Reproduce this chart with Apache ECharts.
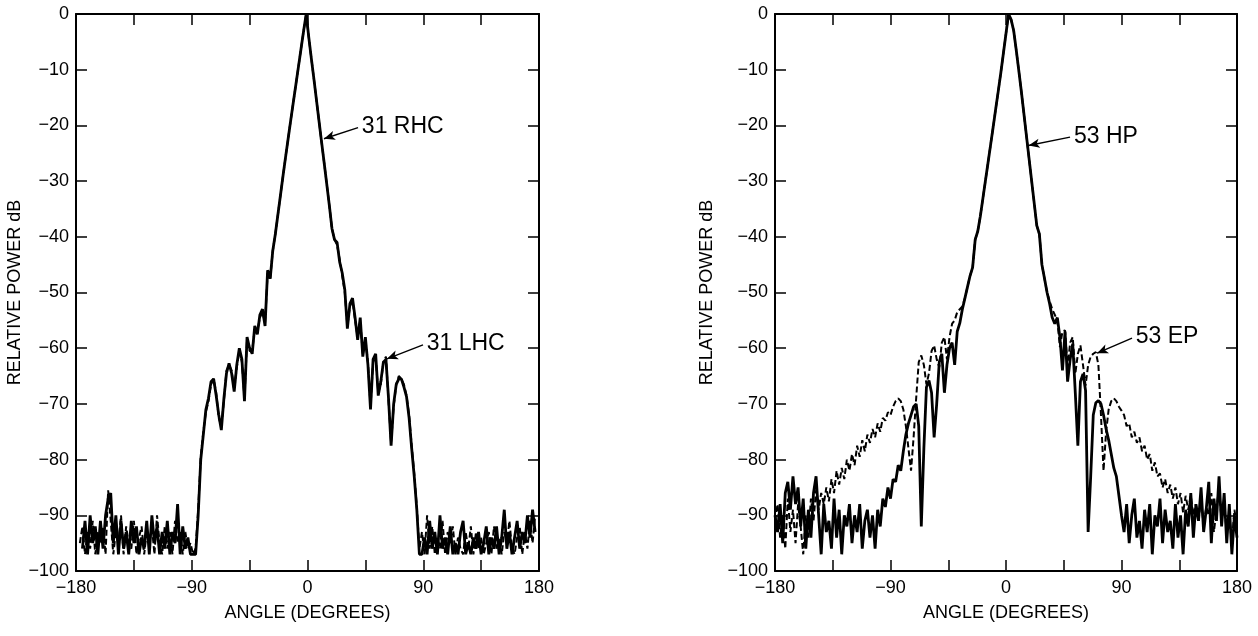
<!DOCTYPE html>
<html>
<head>
<meta charset="utf-8">
<title>Antenna patterns</title>
<script src="https://cdn.jsdelivr.net/npm/echarts@6/dist/echarts.min.js"></script>
<style>
  html, body { margin: 0; padding: 0; background: #fff; }
  #chart { width: 1258px; height: 636px; }
</style>
</head>
<body>
<div id="chart"></div>
<script>
// left panel: 31 RHC / 31 LHC, sampled every 2 degrees (odd angles)
const anglesLeft = [
  -179,-177,-175,-173,-171,-169,-167,-165,-163,-161,
  -159,-157,-155,-153,-151,-149,-147,-145,-143,-141,
  -139,-137,-135,-133,-131,-129,-127,-125,-123,-121,
  -119,-117,-115,-113,-111,-109,-107,-105,-103,-101,
  -99,-97,-95,-93,-91,-89,-87,-85,-83,-81,
  -79,-77,-75,-73,-71,-69,-67,-65,-63,-61,
  -59,-57,-55,-53,-51,-49,-47,-45,-43,-41,
  -39,-37,-35,-33,-31,-29,-27,-25,-23,-21,
  -19,-17,-15,-13,-11,-9,-7,-5,-3,-1,
  1,3,5,7,9,11,13,15,17,19,
  21,23,25,27,29,31,33,35,37,39,
  41,43,45,47,49,51,53,55,57,59,
  61,63,65,67,69,71,73,75,77,79,
  81,83,85,87,89,91,93,95,97,99,
  101,103,105,107,109,111,113,115,117,119,
  121,123,125,127,129,131,133,135,137,139,
  141,143,145,147,149,151,153,155,157,159,
  161,163,165,167,169,171,173,175,177,179
]

const rhc31 = [
  null,null,-96,-91,-97,-90,-95,-92,-97,-91,
  -96,-90,-87,-86,-95,-90,-97,-91,-96,-93,
  -97,-91,-95,-92,-97,-94,-96,-91,-97,-90,
  -95,-92,-97,-93,-96,-91,-97,-93,-95,-88,
  -97,-92,-96,-94,-97,-97,-97,-90,-80,-75.5,
  -71,-69,-66,-65.5,-68.5,-72,-74.7,-69,-64.5,-62.7,
  -64.5,-67.8,-63,-60,-62,-69.5,-58,-60,-61,-56,
  -57.5,-54,-53,-56,-46,-47.5,-42.5,-39.5,-36,-32.5,
  -29,-25.6,-22.3,-19,-15.8,-12.6,-9.4,-6.2,-3,0,
  -4.2,-8,-11.7,-15.5,-19.3,-23.1,-26.8,-30.6,-34.4,-38.5,
  -40.5,-41,-44.5,-46.5,-49.5,-56.5,-52,-51,-54.5,-58.5,
  -54.5,-61.5,-58,-63,-71,-62,-61,-68.5,-66,-62.5,
  -62,-69,-77.5,-70,-66.5,-65.5,-65.5,-67,-68.7,-72.5,
  -78,-83,-89,-97,-97,-94,-97,-91,-96,-93,
  -97,-90,-96,-94,-97,-92,-97,-95,-97,-93,
  -91,-97,-95,-97,-94,-96,-93,-97,-95,-92,
  -97,-94,-96,-92,-97,-94,-89,-96,-93,-97,
  -94,-91,-96,-93,-95,-90,-94,-89,-93,null
]

const lhc31 = [
  null,-95,-92,-97,-93,-96,-91,-97,-93,-95,
  -92,-97,-85.5,-91,-97,-93,-95,-90,-97,-92,
  -95,-96,-91,-97,-94,-92,-97,-93,-95,-92,
  -97,-90,-95,-97,-92,-96,-93,-97,-91,-95,
  -93,-97,-93,-96,-95,-97,-96,-89,-79.5,-75,
  -71.5,-69.5,-66.5,-65.5,-68,-72.5,-74,-69.5,-64,-63,
  -64,-67.5,-63.5,-60.5,-62.5,-69,-58.5,-60.5,-60.5,-56.5,
  -57,-54.5,-53.5,-55.5,-46.5,-47.5,-42.5,-39.5,-36,-32.5,
  -29,-25.6,-22.3,-19,-15.8,-12.6,-9.4,-6.2,-3,0,
  -4.2,-8,-11.7,-15.5,-19.3,-23.1,-26.8,-30.6,-34.4,-38.5,
  -40.5,-41.5,-44,-47,-50,-56,-52.5,-51.5,-55,-58,
  -55,-61,-58.5,-62.5,-70.5,-62.5,-61.5,-68,-66.5,-62.5,
  -61.5,-69.5,-77,-70.5,-66.5,-65,-65.5,-66.5,-68.5,-72,
  -77.5,-82.5,-88.5,-96,-93,-97,-90,-96,-92,-97,
  -94,-96,-91,-97,-93,-95,-92,-97,-94,-96,
  -97,-93,-96,-92,-97,-93,-96,-94,-97,-95,
  -93,-97,-92,-96,-94,-97,-93,-95,-91,-96,
  -97,-94,-92,-97,-93,-96,-91,-95,-90,null
]

// right panel: 53 HP / 53 EP, sampled every 2 degrees (even angles)
const anglesRight = [
  -180,-178,-176,-174,-172,-170,-168,-166,-164,-162,
  -160,-158,-156,-154,-152,-150,-148,-146,-144,-142,
  -140,-138,-136,-134,-132,-130,-128,-126,-124,-122,
  -120,-118,-116,-114,-112,-110,-108,-106,-104,-102,
  -100,-98,-96,-94,-92,-90,-88,-86,-84,-82,
  -80,-78,-76,-74,-72,-70,-68,-66,-64,-62,
  -60,-58,-56,-54,-52,-50,-48,-46,-44,-42,
  -40,-38,-36,-34,-32,-30,-28,-26,-24,-22,
  -20,-18,-16,-14,-12,-10,-8,-6,-4,-2,
  0,2,4,6,8,10,12,14,16,18,
  20,22,24,26,28,30,32,34,36,38,
  40,42,44,46,48,50,52,54,56,58,
  60,62,64,66,68,70,72,74,76,78,
  80,82,84,86,88,90,92,94,96,98,
  100,102,104,106,108,110,112,114,116,118,
  120,122,124,126,128,130,132,134,136,138,
  140,142,144,146,148,150,152,154,156,158,
  160,162,164,166,168,170,172,174,176,178,
  180
]

const hp53 = [
  -90,-93,-88,-95,-86,-84,-89,-83,-88,-85,
  -92,-87,-96,-89,-94,-86,-83,-90,-97,-88,
  -93,-91,-96,-87,-94,-89,-97,-90,-92,-88,
  -95,-90,-93,-88,-96,-91,-89,-94,-90,-96,
  -89,-92,-87,-88.5,-85,-87,-83.5,-84,-81,-82,
  -78.5,-75.5,-73.5,-72,-70.5,-70,-74,-92,-78,-67,
  -65.8,-68,-76,-70,-62.5,-61,-68,-63,-60,-59,
  -63,-57,-55.5,-53,-51,-49,-47,-45.5,-40.5,-39,
  -36.3,-33.1,-29.9,-26.7,-23.5,-20.3,-17,-13.8,-10.5,-7,
  -3.5,0,-1,-3,-6.5,-10.2,-14,-18,-22,-26,
  -30,-34,-38,-39.5,-45,-47.5,-50,-52,-54.5,-55.6,
  -54.5,-58,-64,-57,-66,-62,-59.2,-68,-77.5,-66,
  -64.6,-67.6,-93,-83,-72,-69.8,-69.4,-70,-72,-74.5,
  -76.5,-79,-81.5,-83,-86.5,-90,-93,-88,-95,-90,
  -87,-94,-91,-96,-89,-93,-88,-97,-90,-92,
  -87,-95,-89,-93,-91,-96,-88,-94,-90,-97,
  -89,-92,-86,-94,-88,-91,-85,-93,-89,-84,
  -95,-87,-91,-83,-92,-86,-95,-88,-97,-90,
  -94
]

const ep53 = [
  -91,-88,-94,-90,-96,-87,-93,-89,-95,-88,
  -92,-97,-90,-94,-87,-91,-85.5,-89,-86,-88,
  -85,-87.5,-83.5,-86,-82,-84.5,-81.5,-83.5,-80,-82,
  -79,-81,-77.5,-79.5,-76.5,-78.5,-75.5,-77,-74.5,-76,
  -73.5,-75,-72.5,-73,-71.5,-72,-70.5,-69.5,-69,-69.5,
  -71,-74,-78,-82,-76,-69,-62.5,-61.3,-63,-66.5,
  -64.5,-60.5,-59.5,-62,-63.4,-59,-58,-62,-58,-55.6,
  -55,-53.5,-53,-52.5,-51,-49,-47,-45.5,-40.5,-39,
  -36.3,-33.1,-29.9,-26.7,-23.5,-20.3,-17,-13.8,-10.5,-7,
  -3.5,0,-1,-3,-6.5,-10.2,-14,-18,-22,-26,
  -30,-34,-38,-39.5,-45,-47.5,-50,-51.5,-53,-54,
  -55,-59.8,-57,-56.8,-63.4,-59,-58,-64.6,-61,-59.5,
  -63,-66.7,-63,-61.5,-61,-60.7,-63,-72,-82,-75,
  -71,-69.5,-69,-69.5,-70.5,-71.2,-72,-74,-73.5,-76,
  -75,-77,-76,-78.5,-77.5,-80,-79,-82,-80.5,-83,
  -82.5,-85,-83.5,-86,-84.5,-87,-85,-88,-86,-89.5,
  -86.5,-89,-86.5,-90,-88,-91,-87,-92,-88.5,-90,
  -86,-93,-89,-85,-91,-88,-93,-90,-95,-89,
  -92
]

const fontFamily = '"Liberation Sans", Arial, Helvetica, sans-serif'

function minus(v) {
  return v < 0 ? '\u2212' + Math.abs(v) : String(v)
}

function pairs(xs, ys) {
  return xs.map((x, i) => [x, ys[i]])
}

function axesFor(gridIndex, nameGap) {
  const line = { show: true, onZero: false, lineStyle: { color: '#000', width: 2 } }
  const tick = { show: true, inside: true, length: 11, lineStyle: { color: '#000', width: 1.5 } }
  const xCommon = { type: 'value', gridIndex, min: -180, max: 180, interval: 45, splitLine: { show: false }, axisLine: line, axisTick: tick }
  const yCommon = { type: 'value', gridIndex, min: -100, max: 0, interval: 10, splitLine: { show: false }, axisLine: line, axisTick: tick }
  return {
    x: [
      Object.assign({}, xCommon, {
        position: 'bottom',
        name: 'ANGLE (DEGREES)',
        nameLocation: 'middle',
        nameGap: 33,
        nameTextStyle: { fontSize: 18, color: '#000', fontFamily },
        axisLabel: {
          margin: 8, fontSize: 18, color: '#000', fontFamily,
          showMinLabel: true, showMaxLabel: true,
          formatter: (v) => (v % 90 === 0 ? minus(v) : '')
        }
      }),
      Object.assign({}, xCommon, { position: 'top', axisLabel: { show: false } })
    ],
    y: [
      Object.assign({}, yCommon, {
        position: 'left',
        name: 'RELATIVE POWER dB',
        nameLocation: 'middle',
        nameGap,
        nameRotate: 90,
        nameTextStyle: { fontSize: 18, color: '#000', fontFamily },
        axisLabel: {
          margin: 7, fontSize: 18, color: '#000', fontFamily,
          showMinLabel: true, showMaxLabel: true,
          formatter: minus
        }
      }),
      Object.assign({}, yCommon, { position: 'right', axisLabel: { show: false } })
    ]
  }
}

// callout: text sits next to the tail, arrow points at the curve
function callout(text, tail, tip) {
  return {
    silent: true,
    symbol: ['none', 'arrow'],
    symbolSize: [7, 11],
    lineStyle: { color: '#000', width: 1.4, type: 'solid' },
    label: { show: true, position: 'start', distance: 4, formatter: text, fontSize: 23, color: '#000', fontFamily },
    data: [[{ coord: tail }, { coord: tip }]]
  }
}

function solid(name, xi, yi, data, mark) {
  return {
    name, type: 'line', xAxisIndex: xi, yAxisIndex: yi, data,
    showSymbol: false, connectNulls: false, z: 3,
    lineStyle: { color: '#000', width: 2.8 },
    markLine: mark
  }
}

function dashed(name, xi, yi, data, mark) {
  return {
    name, type: 'line', xAxisIndex: xi, yAxisIndex: yi, data,
    showSymbol: false, connectNulls: false, z: 4,
    lineStyle: { color: '#000', width: 2, type: [6, 3] },
    markLine: mark
  }
}

const left = axesFor(0, 52)
const right = axesFor(1, 59)

const chart = echarts.init(document.getElementById('chart'), null, { renderer: 'canvas' })
chart.setOption({
  animation: false,
  backgroundColor: '#fff',
  grid: [
    { left: 76, right: 719, top: 14, bottom: 65 },
    { left: 775, right: 21, top: 14, bottom: 65 }
  ],
  xAxis: [...left.x, ...right.x],
  yAxis: [...left.y, ...right.y],
  series: [
    solid('31 RHC', 0, 0, pairs(anglesLeft, rhc31), callout('31 RHC', [39.3, -20.4], [12.8, -22.4])),
    dashed('31 LHC', 0, 0, pairs(anglesLeft, lhc31), callout('31 LHC', [89.8, -59.4], [61.8, -61.9])),
    solid('53 HP', 2, 2, pairs(anglesRight, hp53), callout('53 HP', [49.9, -22.1], [17.6, -23.6])),
    dashed('53 EP', 2, 2, pairs(anglesRight, ep53), callout('53 EP', [98.2, -58.2], [71, -60.9]))
  ]
})
</script>
</body>
</html>
